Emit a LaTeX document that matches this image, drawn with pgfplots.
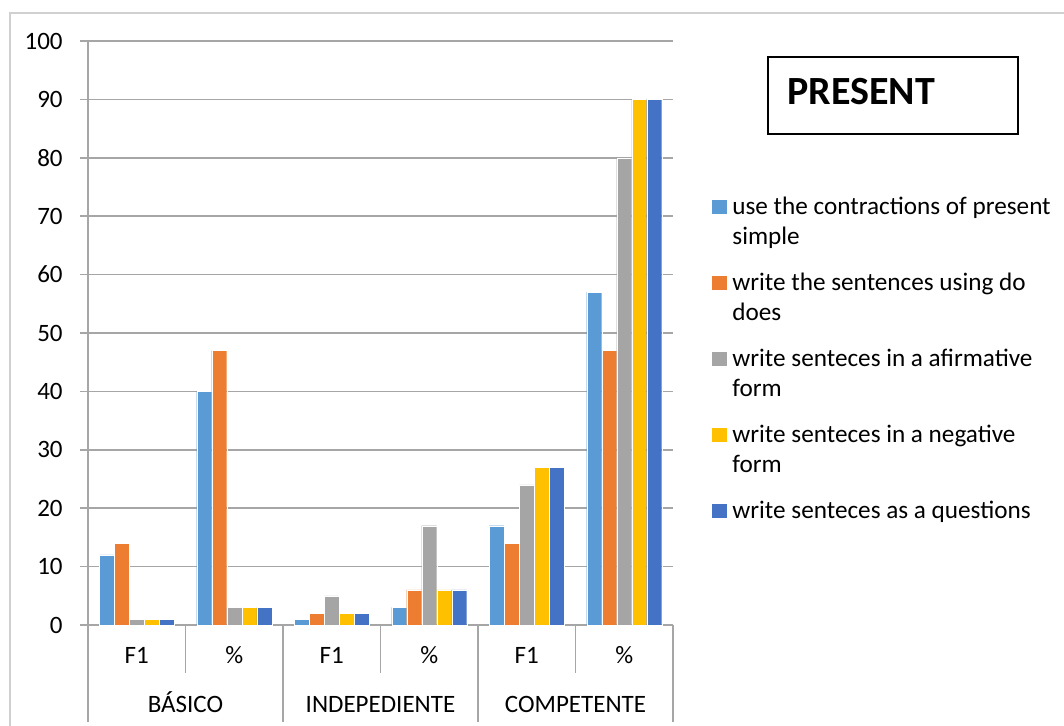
\documentclass[border=0pt]{standalone}
\usepackage{pgfplots}
\usepackage{pgfplotstable}
\pgfplotsset{compat=1.18}
\usepackage{fontspec}
\setmainfont{Carlito}

\definecolor{sA}{HTML}{5B9BD5}
\definecolor{sB}{HTML}{ED7D31}
\definecolor{sC}{HTML}{A5A5A5}
\definecolor{sD}{HTML}{FFC000}
\definecolor{sE}{HTML}{4472C4}
\definecolor{gridc}{HTML}{A6A6A6}
\definecolor{framec}{HTML}{D0D0D0}

% categories 0..5 = BASICO F1, %, INDEPEDIENTE F1, %, COMPETENTE F1, %
\pgfplotstableread{
x  s1 s2 s3 s4 s5
0  12 14  1  1  1
1  40 47  3  3  3
2   1  2  5  2  2
3   3  6 17  6  6
4  17 14 24 27 27
5  57 47 80 90 90
}\datatable

\pgfplotsset{sqlegend/.style={legend image code/.code={\fill[##1,draw=none] (0pt,0pt) rectangle (7.5pt,7pt);}}}

\begin{document}
\begin{tikzpicture}[font=\fontsize{12.5}{15}\selectfont]
\useasboundingbox (0,0) rectangle (532pt,363pt);
\draw[framec, line width=0.75pt] (5pt,-5pt) -- (5pt,356.5pt) -- (540pt,356.5pt);
\begin{axis}[
    at={(44pt,50.5pt)}, anchor=south west,
    scale only axis,
    width=292.5pt, height=292pt,
    xmin=-0.5, xmax=5.5,
    ymin=0, ymax=100,
    ytick distance=10,
    xtick=\empty,
    axis lines*=left,
    axis line style={gridc, line width=1pt},
    ymajorgrids,
    grid style={gridc, line width=0.75pt},
    tick align=outside,
    major tick length=4pt,
    tick style={gridc, line width=0.75pt},
    tick label style={font=\fontsize{12.5}{15}\selectfont},
    yticklabel style={inner sep=0pt, xshift=-8.5pt},
    /pgf/number format/assume math mode=true,
    ybar=0pt, bar width=7.5pt,
    clip=false,
    legend cell align=left,
    legend style={at={(1.0667,0.7466)}, anchor=north west,
        draw=none, fill=none, inner sep=0pt,
        row sep=22pt, column sep=0.5pt,
        font=\fontsize{12.6}{15}\selectfont,
        cells={anchor=base west, inner sep=0pt}},
]
\addplot[fill=sA, draw=white, line width=0.1pt, sqlegend] table[x=x, y=s1] {\datatable};
\addlegendentry{\parbox[t]{170pt}{\strut use the contractions of present\\simple\strut}}
\addplot[fill=sB, draw=white, line width=0.1pt, sqlegend] table[x=x, y=s2] {\datatable};
\addlegendentry{\parbox[t]{170pt}{\strut write the sentences using do\\does\strut}}
\addplot[fill=sC, draw=white, line width=0.1pt, sqlegend] table[x=x, y=s3] {\datatable};
\addlegendentry{\parbox[t]{170pt}{\strut write senteces in a afirmative\\form\strut}}
\addplot[fill=sD, draw=white, line width=0.1pt, sqlegend] table[x=x, y=s4] {\datatable};
\addlegendentry{\parbox[t]{170pt}{\strut write senteces in a negative\\form\strut}}
\addplot[fill=sE, draw=white, line width=0.1pt, sqlegend] table[x=x, y=s5] {\datatable};
\addlegendentry{\parbox[t]{170pt}{\strut write senteces as a questions\strut}}

% two-level category axis
\draw[gridc, line width=0.75pt] (axis cs:0.5,0) -- ++(0pt,-24pt);
\draw[gridc, line width=0.75pt] (axis cs:2.5,0) -- ++(0pt,-24pt);
\draw[gridc, line width=0.75pt] (axis cs:4.5,0) -- ++(0pt,-24pt);
\draw[gridc, line width=0.75pt] (axis cs:-0.5,0) -- ++(0pt,-48.5pt);
\draw[gridc, line width=0.75pt] (axis cs:1.5,0) -- ++(0pt,-48.5pt);
\draw[gridc, line width=0.75pt] (axis cs:3.5,0) -- ++(0pt,-48.5pt);
\draw[gridc, line width=0.75pt] (axis cs:5.5,0) -- ++(0pt,-48.5pt);
\node[anchor=base] at ([yshift=-19.5pt]axis cs:0,0) {F1};
\node[anchor=base] at ([yshift=-19.5pt]axis cs:1,0) {\%};
\node[anchor=base] at ([yshift=-19.5pt]axis cs:2,0) {F1};
\node[anchor=base] at ([yshift=-19.5pt]axis cs:3,0) {\%};
\node[anchor=base] at ([yshift=-19.5pt]axis cs:4,0) {F1};
\node[anchor=base] at ([yshift=-19.5pt]axis cs:5,0) {\%};
\node[anchor=base] at ([yshift=-44pt]axis cs:0.5,0) {BÁSICO};
\node[anchor=base] at ([yshift=-44pt]axis cs:2.5,0) {INDEPEDIENTE};
\node[anchor=base] at ([yshift=-44pt]axis cs:4.5,0) {COMPETENTE};
\end{axis}
% title box
\draw[black, line width=1pt] (384pt,296pt) rectangle (509pt,334.5pt);
\node[anchor=base west, inner sep=0pt, font=\fontsize{20}{24}\selectfont\bfseries] at (393.5pt,310.5pt) {PRESENT};
\end{tikzpicture}
\end{document}
